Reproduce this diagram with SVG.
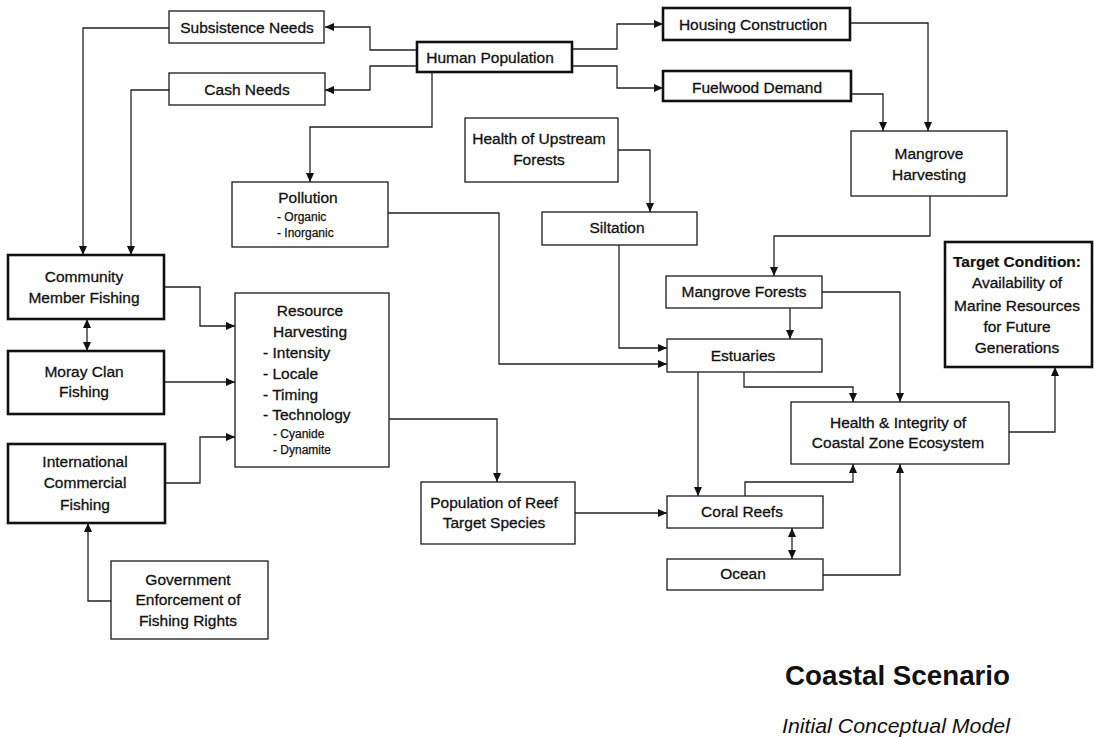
<svg xmlns="http://www.w3.org/2000/svg" width="1094" height="738" viewBox="0 0 1094 738">
  <style>
    .box { fill: #fff; stroke: #1a1a1a; stroke-width: 1.3; }
    .thick { fill: #fff; stroke: #111; stroke-width: 2.6; }
    .lbl { font-family: "Liberation Sans", Arial, sans-serif; font-size: 15.5px; fill: #111; stroke: #111; stroke-width: 0.3; text-anchor: middle; }
    .sm { font-family: "Liberation Sans", Arial, sans-serif; font-size: 12px; fill: #111; stroke: #111; stroke-width: 0.25; }
    .lft { text-anchor: start; }
    .bold { font-weight: bold; stroke-width: 0.2; }
    .conn polyline { fill: none; stroke: #222; stroke-width: 1.3; marker-end: url(#arr); }
    .conn .both { marker-start: url(#arr); }
    .title { font-family: "Liberation Sans", Arial, sans-serif; font-weight: bold; font-size: 27px; fill: #111; }
    .sub { font-family: "Liberation Sans", Arial, sans-serif; font-style: italic; font-size: 20px; fill: #111; }
  </style>
  <defs>
    <marker id="arr" viewBox="0 0 9 8" refX="9" refY="4" markerWidth="9" markerHeight="8" markerUnits="userSpaceOnUse" orient="auto-start-reverse">
      <path d="M0,0 L9,4 L0,8 z" fill="#111"/>
    </marker>
  </defs>
  <rect width="1094" height="738" fill="#fff"/>

  <!-- connectors -->
  <g id="connectors" class="conn">
    <polyline points="417,50 370,50 370,27 325,27"/>
    <polyline points="417,66 370,66 370,90 325,90"/>
    <polyline points="432,72 432,127 310,127 310,182"/>
    <polyline points="572,49 617,49 617,24 663,24"/>
    <polyline points="572,66 617,66 617,88 663,88"/>
    <polyline points="169,28 83,28 83,255"/>
    <polyline points="169,90 131,90 131,255"/>
    <polyline points="850,23 928,23 928,131"/>
    <polyline points="851,94 883,94 883,131"/>
    <polyline points="618,150 650,150 650,212"/>
    <polyline points="930,196 930,236 774,236 774,276"/>
    <polyline points="619,245 619,348 667,348"/>
    <polyline points="388,213 499,213 499,364 667,364"/>
    <polyline points="790,308 790,339"/>
    <polyline points="822,292 900,292 900,402"/>
    <polyline points="744,372 744,387 853,387 853,402"/>
    <polyline points="698,372 698,496"/>
    <polyline points="745,496 745,482 853,482 853,464"/>
    <polyline points="823,575 900,575 900,464"/>
    <polyline class="both" points="792,528 792,559"/>
    <polyline points="1009,432 1055,432 1055,367"/>
    <polyline points="575,513 667,513"/>
    <polyline points="389,419 497,419 497,482"/>
    <polyline points="164,287 200,287 200,326 235,326"/>
    <polyline points="164,382 235,382"/>
    <polyline points="165,483 200,483 200,437 235,437"/>
    <polyline class="both" points="87,319 87,351"/>
    <polyline points="111,601 88,601 88,523"/>
  </g>

  <g id="subsistence-needs">
    <rect class="box" x="169" y="11" width="155" height="32"/>
    <text class="lbl" x="247" y="33">Subsistence Needs</text>
  </g>
  <g id="cash-needs">
    <rect class="box" x="169" y="73" width="156" height="32"/>
    <text class="lbl" x="247" y="95">Cash Needs</text>
  </g>
  <g id="human-population">
    <rect class="thick" x="417" y="42" width="155" height="30"/>
    <text class="lbl" x="490" y="63">Human Population</text>
  </g>
  <g id="housing-construction">
    <rect class="thick" x="663" y="8" width="187" height="32"/>
    <text class="lbl" x="753" y="30">Housing Construction</text>
  </g>
  <g id="fuelwood-demand">
    <rect class="thick" x="663" y="71" width="188" height="30"/>
    <text class="lbl" x="757" y="93">Fuelwood Demand</text>
  </g>
  <g id="pollution">
    <rect class="box" x="232" y="182" width="156" height="65"/>
    <text class="lbl" x="308" y="203">Pollution</text>
    <text class="sm lft" x="277" y="221">- Organic</text>
    <text class="sm lft" x="277" y="237">- Inorganic</text>
  </g>
  <g id="health-upstream-forests">
    <rect class="box" x="465" y="118" width="153" height="64"/>
    <text class="lbl" x="539" y="144">Health of Upstream</text>
    <text class="lbl" x="539" y="165">Forests</text>
  </g>
  <g id="siltation">
    <rect class="box" x="542" y="212" width="155" height="33"/>
    <text class="lbl" x="617" y="233">Siltation</text>
  </g>
  <g id="mangrove-harvesting">
    <rect class="box" x="851" y="131" width="156" height="65"/>
    <text class="lbl" x="929" y="159">Mangrove</text>
    <text class="lbl" x="929" y="180">Harvesting</text>
  </g>
  <g id="target-condition">
    <rect class="thick" x="945" y="242" width="147" height="125"/>
    <text class="lbl bold" x="1017" y="267">Target Condition:</text>
    <text class="lbl" x="1017" y="288">Availability of</text>
    <text class="lbl" x="1017" y="311">Marine Resources</text>
    <text class="lbl" x="1017" y="332">for Future</text>
    <text class="lbl" x="1017" y="353">Generations</text>
  </g>
  <g id="mangrove-forests">
    <rect class="box" x="666" y="276" width="156" height="32"/>
    <text class="lbl" x="744" y="297">Mangrove Forests</text>
  </g>
  <g id="estuaries">
    <rect class="box" x="667" y="339" width="155" height="33"/>
    <text class="lbl" x="743" y="361">Estuaries</text>
  </g>
  <g id="health-integrity">
    <rect class="box" x="791" y="402" width="218" height="62"/>
    <text class="lbl" x="898" y="428">Health &amp; Integrity of</text>
    <text class="lbl" x="898" y="448">Coastal Zone Ecosystem</text>
  </g>
  <g id="coral-reefs">
    <rect class="box" x="667" y="496" width="156" height="32"/>
    <text class="lbl" x="742" y="517">Coral Reefs</text>
  </g>
  <g id="ocean">
    <rect class="box" x="667" y="559" width="156" height="31"/>
    <text class="lbl" x="743" y="579">Ocean</text>
  </g>
  <g id="reef-target-species">
    <rect class="box" x="421" y="482" width="154" height="62"/>
    <text class="lbl" x="494" y="508">Population of Reef</text>
    <text class="lbl" x="494" y="528">Target Species</text>
  </g>
  <g id="resource-harvesting">
    <rect class="box" x="235" y="293" width="154" height="174"/>
    <text class="lbl" x="310" y="316">Resource</text>
    <text class="lbl" x="310" y="337">Harvesting</text>
    <text class="lbl lft" x="263" y="358">- Intensity</text>
    <text class="lbl lft" x="263" y="379">- Locale</text>
    <text class="lbl lft" x="263" y="400">- Timing</text>
    <text class="lbl lft" x="263" y="420">- Technology</text>
    <text class="sm lft" x="273" y="438">- Cyanide</text>
    <text class="sm lft" x="273" y="454">- Dynamite</text>
  </g>
  <g id="community-member-fishing">
    <rect class="thick" x="8" y="255" width="156" height="64"/>
    <text class="lbl" x="84" y="282">Community</text>
    <text class="lbl" x="84" y="303">Member Fishing</text>
  </g>
  <g id="moray-clan-fishing">
    <rect class="thick" x="8" y="351" width="156" height="63"/>
    <text class="lbl" x="84" y="377">Moray Clan</text>
    <text class="lbl" x="84" y="397">Fishing</text>
  </g>
  <g id="international-commercial-fishing">
    <rect class="thick" x="8" y="444" width="157" height="79"/>
    <text class="lbl" x="85" y="467">International</text>
    <text class="lbl" x="85" y="488">Commercial</text>
    <text class="lbl" x="85" y="510">Fishing</text>
  </g>
  <g id="government-enforcement">
    <rect class="box" x="111" y="561" width="157" height="78"/>
    <text class="lbl" x="188" y="585">Government</text>
    <text class="lbl" x="188" y="605">Enforcement of</text>
    <text class="lbl" x="188" y="626">Fishing Rights</text>
  </g>

  <g id="caption">
    <text class="title" x="785" y="685" textLength="225" lengthAdjust="spacingAndGlyphs">Coastal Scenario</text>
    <text class="sub" x="782" y="733" textLength="228" lengthAdjust="spacingAndGlyphs">Initial Conceptual Model</text>
  </g>
</svg>
